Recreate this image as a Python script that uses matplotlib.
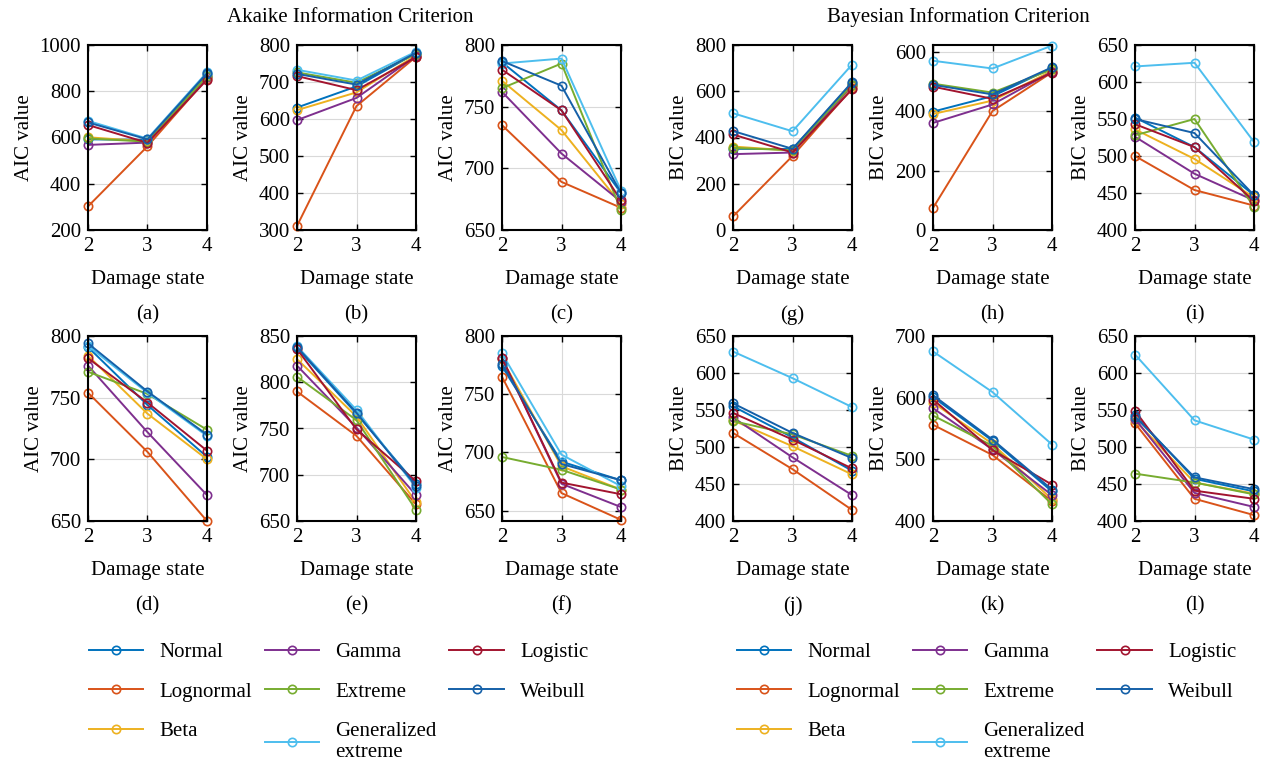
import numpy as np
import matplotlib
matplotlib.use("Agg")
import matplotlib.pyplot as plt

plt.rcParams['font.family'] = ['Liberation Serif', 'DejaVu Serif']
plt.rcParams['font.size'] = 15

dists = ['Normal', 'Lognormal', 'Beta', 'Gamma', 'Extreme',
         'Generalized\nextreme', 'Logistic', 'Weibull']
colors = ['#0072BD', '#D95319', '#EDB120', '#7E2F8E', '#77AC30',
          '#4DBEEE', '#A2142F', '#1560A8']
states = [2, 3, 4]

# rows: one per distribution, values at damage state 2, 3, 4
aic_a = [[592, 590, 875], [302, 562, 855], [601, 583, 862], [568, 578, 860],
         [596, 582, 865], [672, 595, 882], [654, 577, 850], [665, 592, 878]]
aic_b = [[631, 688, 778], [311, 635, 768], [624, 672, 772], [597, 657, 770],
         [726, 698, 776], [733, 704, 782], [716, 678, 767], [722, 693, 779]]
aic_c = [[786, 747, 680], [735, 689, 668], [771, 731, 671], [762, 712, 673],
         [765, 785, 666], [785, 789, 682], [780, 747, 674], [787, 767, 680]]
aic_d = [[791, 744, 702], [754, 706, 650], [784, 737, 700], [776, 722, 671],
         [771, 753, 724], [792, 754, 719], [782, 746, 707], [794, 755, 720]]
aic_e = [[837, 766, 690], [790, 742, 668], [825, 763, 670], [818, 751, 678],
         [806, 759, 662], [839, 770, 686], [836, 749, 693], [838, 767, 688]]
aic_f = [[774, 692, 676], [765, 665, 642], [780, 688, 668], [781, 673, 653],
         [696, 685, 668], [785, 698, 671], [781, 674, 664], [776, 690, 676]]
bic_g = [[351, 350, 635], [59, 320, 612], [361, 343, 622], [328, 335, 625],
         [355, 345, 628], [505, 427, 715], [413, 335, 608], [428, 351, 639]]
bic_h = [[398, 450, 545], [74, 400, 530], [390, 435, 535], [360, 422, 532],
         [492, 462, 540], [569, 543, 620], [482, 441, 528], [488, 456, 547]]
bic_i = [[552, 512, 447], [500, 454, 433], [536, 496, 444], [526, 476, 440],
         [528, 550, 431], [621, 626, 519], [543, 512, 439], [550, 531, 447]]
bic_j = [[555, 513, 468], [519, 470, 415], [536, 501, 463], [540, 486, 435],
         [535, 517, 488], [629, 593, 554], [546, 510, 471], [559, 519, 485]]
bic_k = [[601, 530, 448], [556, 507, 432], [592, 525, 435], [583, 516, 442],
         [571, 522, 427], [675, 609, 524], [597, 515, 459], [604, 532, 451]]
bic_l = [[543, 457, 440], [532, 430, 408], [536, 452, 437], [538, 438, 419],
         [464, 452, 436], [625, 536, 510], [549, 441, 430], [541, 459, 443]]

panels = [
    (aic_a, 'AIC value', '(a)', (200, 1000), np.arange(200, 1001, 200)),
    (aic_b, 'AIC value', '(b)', (300, 800), np.arange(300, 801, 100)),
    (aic_c, 'AIC value', '(c)', (650, 800), np.arange(650, 801, 50)),
    (bic_g, 'BIC value', '(g)', (0, 800), np.arange(0, 801, 200)),
    (bic_h, 'BIC value', '(h)', (0, 622), np.arange(0, 601, 200)),
    (bic_i, 'BIC value', '(i)', (400, 650), np.arange(400, 651, 50)),
    (aic_d, 'AIC value', '(d)', (650, 800), np.arange(650, 801, 50)),
    (aic_e, 'AIC value', '(e)', (650, 850), np.arange(650, 851, 50)),
    (aic_f, 'AIC value', '(f)', (641, 800), np.arange(650, 801, 50)),
    (bic_j, 'BIC value', '(j)', (400, 650), np.arange(400, 651, 50)),
    (bic_k, 'BIC value', '(k)', (400, 700), np.arange(400, 701, 100)),
    (bic_l, 'BIC value', '(l)', (400, 650), np.arange(400, 651, 50)),
]

W, H = 1264, 765
fig = plt.figure(figsize=(W / 100, H / 100), dpi=100)

lefts = [88, 297, 502, 733, 933, 1135]
tops = [45, 336]
aw, ah = 119, 185

axes = []
for i, (vals, ylab, cap, ylim, yt) in enumerate(panels):
    r, c = divmod(i, 6)
    ax = fig.add_axes([lefts[c] / W, 1 - (tops[r] + ah) / H, aw / W, ah / H])
    for v, col, name in zip(vals, colors, dists):
        ax.plot(states, v, '-o', color=col, lw=1.4, ms=6, mfc='none',
                mew=1.2, label=name, clip_on=False)
    ax.set_xlim(2, 4)
    ax.set_ylim(*ylim)
    ax.set_xticks(states)
    ax.set_yticks(yt)
    ax.grid(True, color='#d9d9d9', lw=0.8)
    ax.tick_params(direction='in', top=True, right=True, length=4, width=1,
                   labelsize=15, pad=5)
    for s in ax.spines.values():
        s.set_linewidth(1.5)
    ax.set_ylabel(ylab, labelpad=4)
    ax.set_xlabel('Damage state', labelpad=10)
    ax.text(0.5, -0.46, cap, transform=ax.transAxes, ha='center', va='center')
    axes.append(ax)

fig.text(350 / W, 1 - 17 / H, 'Akaike Information Criterion', ha='center', va='center')
fig.text(958 / W, 1 - 17 / H, 'Bayesian Information Criterion', ha='center', va='center')

handles, labels = axes[0].get_legend_handles_labels()
for x0 in [70, 718]:
    fig.legend(handles, labels, ncol=3, loc='upper left',
               bbox_to_anchor=(x0 / W, 1 - 624 / H), frameon=False,
               handlelength=2.6, handletextpad=0.8, columnspacing=0.6,
               labelspacing=0.95, fontsize=15)

fig.savefig('out.png', dpi=100)
